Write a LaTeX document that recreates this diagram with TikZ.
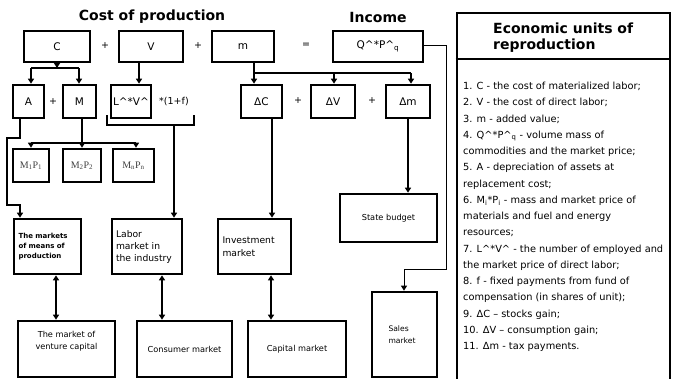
\documentclass[tikz,border=0pt]{standalone}
\usepackage{fontspec}
\setmainfont{DejaVu Sans}
\newfontfamily\serifmp{Liberation Serif}
\usetikzlibrary{arrows.meta}
\tikzset{
  x=1pt, y=-1pt,
  bx/.style={draw, line width=2.6pt, inner sep=0pt, font=\fontsize{10.5}{12}\selectfont},
  mk/.style={bx, font=\fontsize{9.2}{12}\selectfont, align=left},
  mkc/.style={bx, font=\fontsize{8.2}{12}\selectfont, align=center},
  ln/.style={line width=1.3pt},
  ar/.style={ln, -{Triangle[length=5pt,width=6pt]}},
  dar/.style={ln, {Triangle[length=5pt,width=6pt]}-{Triangle[length=5pt,width=6pt]}},
  op/.style={font=\fontsize{9.5}{11}\selectfont, inner sep=0pt},
  ttl/.style={font=\fontsize{14}{16}\selectfont\bfseries, inner sep=0pt},
  mpx/.style={bx, font=\fontsize{10}{11}\serifmp\color{black!75}}
}
\begin{document}
\begin{tikzpicture}
\useasboundingbox (0,0) rectangle (676,378);
% titles
\node[ttl] (t1) at (152,17) {Cost of production};
\node[ttl] (t2) at (378,17) {Income};
% top row
\node[bx, minimum width=66pt, minimum height=31pt] (C) at (57,46.5) {C};
\node[bx, minimum width=64pt, minimum height=31pt] (V) at (151,46.5) {V};
\node[bx, minimum width=62pt, minimum height=31pt] (m) at (243,46.5) {m};
\node[bx, minimum width=90pt, minimum height=31pt] (Q) at (378,46.5) {Q\textasciicircum*P\textasciicircum\textsubscript{q}};
\node[op] (p1) at (105,46) {+};
\node[op] (p2) at (198,46) {+};
\node[op] (eq) at (306,45) {=};
% second row
\node[bx, minimum width=31pt, minimum height=33pt] (A) at (28.5,101.5) {A};
\node[bx, minimum width=33pt, minimum height=33pt] (M) at (79.5,101.5) {M};
\node[bx, minimum width=40pt, minimum height=33pt] (L) at (131,101.5) {L\textasciicircum*V\textasciicircum};
\node[op] (p3) at (53,102) {+};
\node[op] (f) at (174,102) {*(1+f)};
\node[bx, minimum width=41pt, minimum height=33pt] (dC) at (261.5,101.5) {ΔC};
\node[bx, minimum width=44pt, minimum height=33pt] (dV) at (333,101.5) {ΔV};
\node[bx, minimum width=44pt, minimum height=33pt] (dm) at (408,101.5) {Δm};
\node[op] (p4) at (298,101) {+};
\node[op] (p5) at (372,101) {+};
% M row
\node[mpx, minimum width=36pt, minimum height=33pt] (MP1) at (31,165.5) {M\textsubscript{1}P\textsubscript{1}};
\node[mpx, minimum width=38pt, minimum height=33pt] (MP2) at (82,165.5) {M\textsubscript{2}P\textsubscript{2}};
\node[mpx, minimum width=41pt, minimum height=33pt] (MPn) at (133.5,165.5) {M\textsubscript{n}P\textsubscript{n}};
% markets
\node[mk, minimum width=67pt, minimum height=55pt, text width=58pt, font=\fontsize{7}{10}\selectfont\bfseries] (mmp) at (47.5,246.5) {The markets\\of means of\\production\\[6pt]};
\node[mk, minimum width=70pt, minimum height=55pt, text width=62pt] (lab) at (147,246.5) {Labor\\market in\\the industry};
\node[mk, minimum width=73pt, minimum height=55pt, text width=64pt, font=\fontsize{9.2}{13}\selectfont] (inv) at (254.5,246.5) {Investment\\market};
\node[mkc, minimum width=97pt, minimum height=48pt] (sb) at (388.5,218) {State budget};
\node[mkc, minimum width=97pt, minimum height=56pt] (vc) at (66.5,349) {The market of\\venture capital\\[5pt]};
\node[mkc, minimum width=95pt, minimum height=56pt] (cons) at (184.5,349) {Consumer market};
\node[mkc, minimum width=98pt, minimum height=56pt] (cap) at (297,349) {Capital market};
\node[mk, minimum width=65pt, minimum height=85pt, text width=32pt, font=\fontsize{7.6}{12}\selectfont] (sales) at (404.5,334.5) {Sales\\market};
% connectors from C
\coordinate (jc) at (57,68);
\draw[ar] (C.south) -- (jc);
\draw[ln] (31,68) -- (79,68);
\draw[ar] (31,68) -- (31,0 |- A.north);
\draw[ar] (79,68) -- (79,0 |- M.north);
% from V
\draw[ar] (139,0 |- V.south) -- (139,0 |- L.north);
% from M
\coordinate (jm) at (82,143);
\draw[ln] (82,0 |- M.south) -- (jm);
\draw[ln] (31,143) -- (136,143);
\draw[ar] (31,143) -- (31,0 |- MP1.north);
\draw[ar] (82,143) -- (82,0 |- MP2.north);
\draw[ar] (136,143) -- (136,0 |- MPn.north);
% from A
\draw[ar] (20,0 |- A.south) -- (20,138) -- (7,138) -- (7,205) -- (20,205) -- (20,0 |- mmp.north);
% bracket
\draw[ln] (107,115) -- (107,125) -- (194,125) -- (194,115);
\coordinate (br) at (174,125);
\draw[ar] (br) -- (174,0 |- lab.north);
% from m
\coordinate (jmm) at (254,73);
\draw[ar] (254,0 |- m.south) -- (254,0 |- dC.north);
\draw[ln] (jmm) -- (411,73);
\draw[ar] (334,73) -- (334,0 |- dV.north);
\draw[ar] (411,73) -- (411,0 |- dm.north);
\draw[ar] (272,0 |- dC.south) -- (272,0 |- inv.north);
\draw[ar] (408,0 |- dm.south) -- (408,0 |- sb.north);
% from Q
\draw[line width=1pt, -{Triangle[length=5pt,width=6pt]}] (Q.east |- 0,45) -- (446,45) -- (446,269) -- (404,269) -- (404,0 |- sales.north);
% double arrows
\draw[dar] (56,0 |- mmp.south) -- (56,0 |- vc.north);
\draw[dar] (162,0 |- lab.south) -- (162,0 |- cons.north);
\draw[dar] (271,0 |- inv.south) -- (271,0 |- cap.north);
% panel
\node[draw, line width=2.6pt, minimum width=213pt, minimum height=368pt, inner sep=0pt] (panel) at (563.5,197) {};
\draw[line width=2.6pt] (panel.west |- 0,59) -- (panel.east |- 0,59);
\node[font=\fontsize{14}{16}\selectfont\bfseries, align=left, anchor=west, inner sep=0pt] (ptitle) at (493,38) {Economic units of\\reproduction};
\node[font=\fontsize{9.8}{16.25}\selectfont, align=left, anchor=north west, inner sep=0pt] (plist) at (463,82) {%
1. C - the cost of materialized labor;\\
2. V - the cost of direct labor;\\
3. m - added value;\\
4. Q\textasciicircum*P\textasciicircum\textsubscript{q} - volume mass of\\
commodities and the market price;\\
5. A - depreciation of assets at\\
replacement cost;\\
6. M\textsubscript{i}*P\textsubscript{i} - mass and market price of\\
materials and fuel and energy\\
resources;\\
7. L\textasciicircum*V\textasciicircum{} - the number of employed and\\
the market price of direct labor;\\
8. f - fixed payments from fund of\\
compensation (in shares of unit);\\
9. ΔC – stocks gain;\\
10. ΔV – consumption gain;\\
11. Δm - tax payments.};
\end{tikzpicture}
\end{document}
